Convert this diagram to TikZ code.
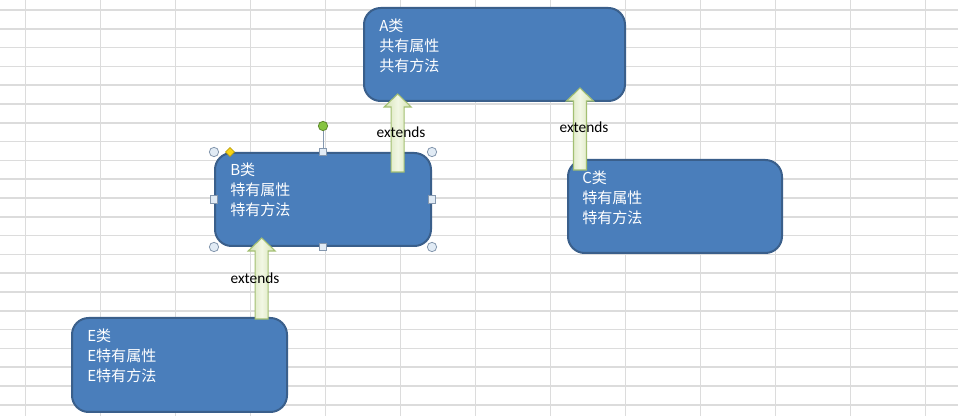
\documentclass[tikz,border=0pt]{standalone}
\usepackage{fontspec}
\setmainfont{Carlito}
\newfontfamily\cjk{Noto Sans CJK SC}
\usetikzlibrary{calc,shapes.geometric}

\definecolor{boxblue}{HTML}{4A7EBB}
\definecolor{boxline}{HTML}{3A5F8B}
\definecolor{gridgray}{HTML}{DCDCDC}
\definecolor{arrgreen}{HTML}{D3E2B2}
\definecolor{arrlight}{HTML}{F2F7E4}
\definecolor{arrline}{HTML}{A3BF72}
\definecolor{handlefill}{HTML}{E1EBF5}
\definecolor{handleline}{HTML}{8497AE}
\definecolor{rotgreen}{HTML}{86C440}
\definecolor{diamyellow}{HTML}{F7D416}

\tikzset{
  classbox/.style={draw=boxline, line width=1.5pt, fill=boxblue, rounded corners=12.5pt, inner sep=0pt},
  classtext/.style={anchor=north west, inner sep=0pt, text=white, align=left,
    font=\cjk\fontsize{11.3}{15}\selectfont},
  extlabel/.style={inner sep=1pt, font=\fontsize{11.5}{13}\selectfont},
  extarrow/.style={draw=arrline, line width=0.8pt, left color=arrgreen, right color=arrgreen, middle color=arrlight},
  gridline/.style={draw=gridgray, line width=1.1pt},
  cornerhandle/.style={circle, draw=handleline, fill=handlefill, line width=0.6pt, minimum size=7pt, inner sep=0pt},
  sidehandle/.style={rectangle, draw=handleline, fill=handlefill, line width=0.6pt, minimum size=5.5pt, inner sep=0pt},
}

% block arrow pointing up, from #1 to #2
\newcommand\extendsarrow[2]{%
  \draw[extarrow] ($(#1)+(-6.5,0)$) -- ($(#2)+(-6.5,13)$) -- ($(#2)+(-13.5,13)$)
    -- (#2) -- ($(#2)+(13.5,13)$) -- ($(#2)+(6.5,13)$) -- ($(#1)+(6.5,0)$) -- cycle;}

\begin{document}
\begin{tikzpicture}[x=0.75pt, y=-0.75pt]
  \useasboundingbox (0,0) rectangle (958,416);
  \fill[white] (0,0) rectangle (958,416);

  % sheet grid
  \foreach \i in {0,...,12}
    \draw[gridline] (25.7+75*\i,0) -- ++(0,416);
  \foreach \j in {0,...,21}
    \draw[gridline] (0,10+18.8*\j) -- ++(958,0);

  % classes
  \node[classbox, minimum width=195.75pt, minimum height=69.75pt] (A) at (494.5,54.5) {};
  \node[classbox, minimum width=162pt, minimum height=69.75pt] (B) at (323,199.5) {};
  \node[classbox, minimum width=160.5pt, minimum height=69.75pt] (C) at (675,206.5) {};
  \node[classbox, minimum width=161.25pt, minimum height=70.5pt] (E) at (179.5,365) {};

  \node[classtext] (Atext) at ($(A.north west)+(16,12)$) {A类\\共有属性\\共有方法};
  \node[classtext] (Btext) at ($(B.north west)+(16,11)$) {B类\\特有属性\\特有方法};
  \node[classtext] (Ctext) at ($(C.north west)+(15,12)$) {C类\\特有属性\\特有方法};
  \node[classtext] (Etext) at ($(E.north west)+(16,12)$) {E类\\E特有属性\\E特有方法};

  % extends arrows
  \coordinate (s1) at (397.7,172);
  \coordinate (t1) at (397.7,94);
  \coordinate (s2) at (580,170);
  \coordinate (t2) at (580,88);
  \coordinate (s3) at (261.7,319);
  \coordinate (t3) at (261.7,238);
  \extendsarrow{s1}{t1}
  \extendsarrow{s2}{t2}
  \extendsarrow{s3}{t3}

  \node[extlabel] (l1) at (401,132) {extends};
  \node[extlabel] (l2) at (584,127) {extends};
  \node[extlabel] (l3) at (255,278) {extends};

  % selection handles on B
  \coordinate (rot) at ($(B.north)+(0,-26)$);
  \draw[handleline, line width=0.6pt] (B.north) -- (rot);
  \node[circle, draw=rotgreen!70!black, fill=rotgreen, line width=0.6pt, minimum size=7pt, inner sep=0pt] (rotknob) at (rot) {};
  \foreach \a in {north west, north east, south west, south east}
    \node[cornerhandle] at (B.\a) {};
  \foreach \a in {north, south, west, east}
    \node[sidehandle] at (B.\a) {};
  \node[diamond, draw=diamyellow!70!black, fill=diamyellow, line width=0.4pt, minimum size=7pt, inner sep=0pt] (adj) at ($(B.north west)+(16,0)$) {};
\end{tikzpicture}
\end{document}
